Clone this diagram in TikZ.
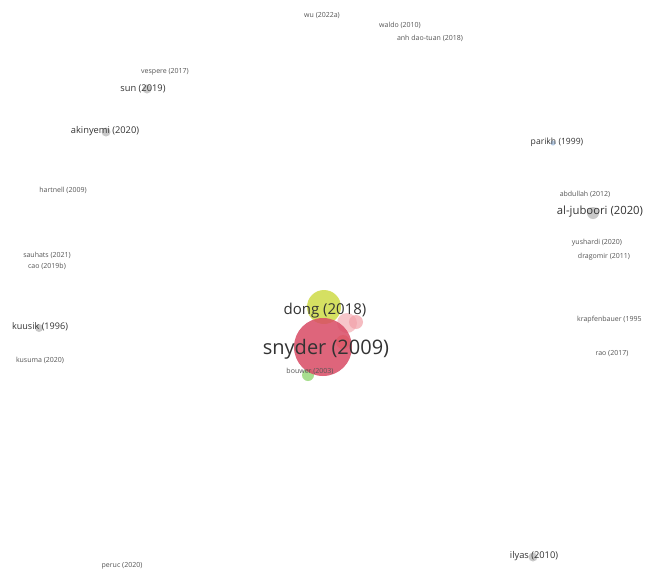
\documentclass[tikz,border=0pt]{standalone}
\usepackage{fontspec}
\setmainfont{Open Sans}
\definecolor{txt}{HTML}{333333}
\definecolor{txtl}{HTML}{555555}
\definecolor{bub}{HTML}{B8B8B8}
\definecolor{redb}{HTML}{D94B65}
\definecolor{yelb}{HTML}{C8D62E}
\definecolor{pinkb}{HTML}{F2A0A8}
\definecolor{greenb}{HTML}{8CD46A}
\definecolor{orab}{HTML}{F08C4A}
\definecolor{blueb}{HTML}{9DB8D8}
\tikzset{
  lab/.style={inner sep=0pt, text=txt, font=\fontsize{#1}{#1}\selectfont},
  slab/.style={inner sep=0pt, text=txtl, font=\fontsize{7}{7}\selectfont},
  bubble/.style={circle, fill=#1, fill opacity=0.75, draw=none, inner sep=0pt},
}
\begin{document}
\begin{tikzpicture}[x=1pt,y=-1pt]
\useasboundingbox[fill=white] (0,0) rectangle (646,571);
% bubbles
\node[bubble=bub, minimum size=9pt] (b-sun) at (147,89) {};
\node[bubble=bub, minimum size=9pt] (b-aki) at (106,132) {};
\node[bubble=blueb, minimum size=5pt] (b-par) at (553,143) {};
\node[bubble=bub, minimum size=12pt] (b-alj) at (593,213) {};
\node[bubble=bub, minimum size=8pt] (b-kuu) at (39,328) {};
\node[bubble=bub, minimum size=9pt] (b-ily) at (533,557) {};
\node[bubble=yelb, minimum size=34pt] (b-dong) at (324,307) {};
\node[bubble=pinkb, minimum size=20pt, fill opacity=0.6] (b-p1) at (347,323) {};
\node[bubble=pinkb, minimum size=14pt, fill opacity=0.7] (b-p2) at (356,322) {};
\node[bubble=orab, minimum size=14pt, fill opacity=0.6] (b-or) at (343,342) {};
\node[bubble=greenb, minimum size=12pt] (b-bou) at (308,375) {};
\node[bubble=redb, minimum size=58pt, fill opacity=0.85] (b-sny) at (323,347) {};
% labels
\node[slab] (wu) at (322,16) {wu (2022a)};
\node[slab] (waldo) at (400,25) {waldo (2010)};
\node[slab] (anh) at (430,38) {anh dao-tuan (2018)};
\node[slab] (vespere) at (165,72) {vespere (2017)};
\node[lab=9.3] (sun) at (143,89) {sun (2019)};
\node[lab=9.3] (akinyemi) at (105,131) {akinyemi (2020)};
\node[slab] (hartnell) at (63,190) {hartnell (2009)};
\node[slab] (sauhats) at (47,255) {sauhats (2021)};
\node[slab] (cao) at (47,266) {cao (2019b)};
\node[lab=8.6] (parikh) at (557,142) {parikh (1999)};
\node[slab] (abdullah) at (585,194) {abdullah (2012)};
\node[lab=11.3] (aljuboori) at (600,212) {al-juboori (2020)};
\node[slab] (yushardi) at (597,243) {yushardi (2020)};
\node[slab] (dragomir) at (604,257) {dragomir (2011)};
\node[slab, anchor=west] (krap) at (577,320) {krapfenbauer (1995};
\node[slab] (rao) at (612,354) {rao (2017)};
\node[lab=9.1] (kuusik) at (40,327) {kuusik (1996)};
\node[slab] (kusuma) at (40,360) {kusuma (2020)};
\node[lab=15] (dong) at (325,311) {dong (2018)};
\node[lab=20] (snyder) at (326,349) {snyder (2009)};
\node[slab] (bouwer) at (310,371) {bouwer (2003)};
\node[lab=9.3] (ilyas) at (534,556) {ilyas (2010)};
\node[slab] (peruc) at (122,566) {peruc (2020)};
\end{tikzpicture}
\end{document}
